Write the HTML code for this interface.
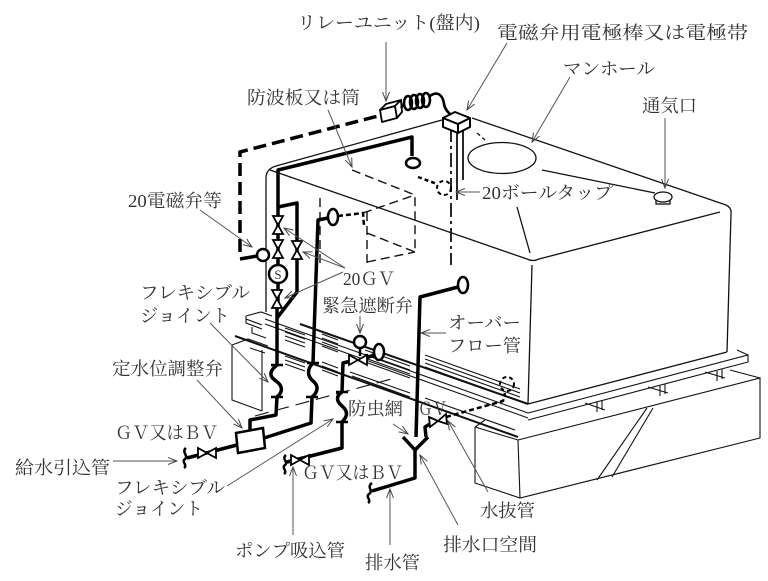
<!DOCTYPE html>
<html><head><meta charset="utf-8"><style>
html,body{margin:0;padding:0;background:#fff;}
svg{display:block;}
text{font-family:"Liberation Serif","Noto Serif CJK SC","Noto Serif CJK JP",serif;font-size:18px;fill:#333;}
</style></head><body>
<svg width="768" height="581" viewBox="0 0 768 581" xmlns="http://www.w3.org/2000/svg">
<defs>
<marker id="a" markerWidth="10" markerHeight="8" refX="9" refY="4" orient="auto" markerUnits="userSpaceOnUse"><path d="M0,0.5 L9,4 L0,7.5" fill="none" stroke="#444" stroke-width="1"/></marker>
</defs>
<rect width="768" height="581" fill="#fff"/>

<!-- TANK thin lines -->
<g fill="none" stroke="#111" stroke-width="1.3" stroke-linejoin="round">
<path d="M266,312 L266,178 Q266,169 276,166 L442,120"/>
<path d="M472,118 L726,205 Q732,208 731,214 L727,352"/>
<path d="M270,170 L527,259 Q533,262 539,259 L720,212"/>
<path d="M532,265 L528,404"/>
<path d="M528,404 L727,352"/>
<path d="M542,170 L655,193"/>
<path d="M517,207 L530,253"/>
<ellipse cx="502" cy="158" rx="34" ry="15.5"/>
<path d="M477,133 L485,140" stroke-dasharray="4 3"/>
</g>
<path d="M300,324 L528,404" stroke="#111" stroke-width="2" fill="none"/>

<!-- vent -->
<rect x="656" y="198" width="14" height="6" fill="#fff" stroke="#111" stroke-width="1.3"/>
<ellipse cx="663" cy="197" rx="9" ry="5" fill="#fff" stroke="#111" stroke-width="1.3"/>

<!-- BEAMS / PLATFORM -->
<g fill="none" stroke="#111" stroke-width="1.1">
<path d="M265,319 L528,413"/>
<path d="M265,324 L528,418"/>
<path d="M285,328 L305,335 M322,334 L338,340 M365,350 L410,366 M425,355 L520,389"/>
<path d="M285,332 L305,339 M322,338 L338,344 M365,354 L410,370 M425,359 L520,393"/>
<path d="M285,336 L305,343 M322,342 L338,348 M365,358 L410,374 M425,363 L520,397"/>
<path d="M285,340 L305,347 M322,346 L338,352 M365,362 L410,378 M425,367 L520,401"/>
<path d="M250,348 L265,353 M285,356 L305,363 M322,362 L338,368 M350,372 L410,393 M425,398 L515,430"/>
<path d="M285,360 L305,367 M322,366 L338,372 M352,376 L410,397"/>
<path d="M285,364 L305,371 M322,370 L338,376"/>
<!-- beam end step -->
<path d="M246,316 L261,312 L272,316 M246,316 L246,323 L262,329 M246,319 L262,325 M252,327 L252,333 L266,338"/>
<!-- left block -->
<path d="M232,345 L232,400 L262,411 M232,345 L248,339 L268,346 M262,350 L262,411"/>
<path d="M255,416 L395,378" stroke-dasharray="14 7"/>
<!-- right slab -->
<path d="M528,413 L748,355 L748,362 L528,420 M748,355 L737,350"/>
<!-- foundation block -->
<path d="M518,440 L760,378 L760,438 L520,498 Z"/>
<path d="M475,427 L518,440 M475,427 L475,483 L520,498 M475,427 L485,420 M730,370 L760,378"/>
<path d="M597,480 L647,408 M612,477 L653,408"/>
<path d="M585,403 L605,410 M597,402 L597,412 M602,400 L602,410"/>
<path d="M648,387 L668,393 M660,386 L660,396 M665,384 L665,394"/>
<path d="M705,372 L725,378 M717,371 L717,381 M722,369 L722,379"/>
</g>
<path d="M235,336 L518,437" stroke="#111" stroke-width="2" fill="none"/>

<!-- dashed 防波板 -->
<g fill="none" stroke="#111" stroke-width="1.4" stroke-dasharray="9 5">
<path d="M352,170 L415,195 L415,252"/>
<path d="M320,198 L320,268"/>
<path d="M367,212 L367,268"/>
<path d="M363,213 L415,195"/>
<path d="M367,233 L415,252"/>
<path d="M367,262 L415,252"/>
</g>

<!-- electrode rods -->
<g fill="none" stroke="#111" stroke-width="1.8">
<path d="M451,128 L451,265" stroke-dasharray="14 4 3 4"/>
<path d="M457,133 L457,200"/>
<path d="M463,130 L463,180"/>
</g>

<!-- control wire -->
<path d="M240,252 L240,152 L378,116" fill="none" stroke="#000" stroke-width="3.5" stroke-dasharray="13 6"/>
<path d="M240,259 L257,256" fill="none" stroke="#000" stroke-width="3.5"/>

<!-- relay box -->
<g stroke="#000" stroke-width="1.8" fill="#fff" stroke-linejoin="round">
<polygon points="380,110 395,106 397,118 382,122"/>
<polygon points="380,110 386,104 401,100 395,106"/>
<polygon points="395,106 401,100 402,112 397,118"/>
</g>
<g fill="none" stroke="#000" stroke-width="2.6">
<path d="M401,108 L404,104"/>
<ellipse cx="408" cy="103" rx="4" ry="7"/>
<ellipse cx="414" cy="102" rx="4" ry="7"/>
<ellipse cx="420" cy="101" rx="4" ry="7"/>
<ellipse cx="426" cy="100" rx="4" ry="7"/>
<path d="M430,96 C438,90 443,96 444,104 C445,110 449,113 452,116"/>
</g>
<g stroke="#000" stroke-width="2" fill="#fff" stroke-linejoin="round">
<polygon points="443,118 458,124 458,133 443,127"/>
<polygon points="458,124 470,118 470,127 458,133"/>
<polygon points="443,118 455,112 470,118 458,124"/>
</g>

<!-- ball tap dashed -->
<path d="M418,177 L437,184" stroke="#000" stroke-width="2.5" stroke-dasharray="4 3" fill="none"/>
<circle cx="444" cy="188" r="7" fill="none" stroke="#000" stroke-width="2" stroke-dasharray="4 3"/>
<path d="M338,216 L363,213 L364,226" stroke="#000" stroke-width="2.5" stroke-dasharray="5 3" fill="none"/>

<!-- PIPES -->
<g fill="none" stroke="#000" stroke-width="3.5" stroke-linejoin="round">
<path d="M278,305 L278,170 L412,137 L412,156"/>
<path d="M278,207 L297,203 L297,292 L277,318"/>
<path d="M277,300 L277,365"/>
<path d="M277,365 C268,372 270,377 276,381 C283,386 283,392 277,397"/>
<path d="M277,397 L276,415 L250,420 L250,432"/>
<path d="M237,445 L187,458"/>
<path d="M186,448 C181,452 189,456 185,459 C181,462 188,465 184,468" stroke-width="2.5"/>
<path d="M264,438 L311,423 L312,397"/>
<path d="M312,397 C318,392 319,386 313,381 C307,376 307,369 313,363"/>
<path d="M313,363 L318,220 L328,218"/>
<path d="M287,462 L342,448 L342,422"/>
<path d="M342,422 C348,416 348,411 342,406 C336,401 336,396 342,392"/>
<path d="M342,392 L343,363 L351,361"/>
<path d="M366,358 L374,355"/>
<path d="M286,455 C281,459 289,462 285,465 C281,468 288,471 284,474" stroke-width="2.5"/>
<path d="M458,287 L420,297 L416,437"/>
<path d="M403,437 L415,450 L428,437"/>
<path d="M415,450 L415,478 L372,491"/>
<path d="M372,483 C366,487 374,491 369,494 C365,497 372,500 368,503" stroke-width="2.5"/>
<path d="M426,437 L425,427 L430,424"/>
</g>
<path d="M446,417 L503,401 L505,393" fill="none" stroke="#000" stroke-width="2.5" stroke-dasharray="5 3"/>
<circle cx="507" cy="384" r="7" fill="none" stroke="#000" stroke-width="2" stroke-dasharray="4 3"/>

<g stroke="#000" stroke-width="2.5">
<path d="M271,365 L283,365 M271,397 L283,397"/>
<path d="M307,363 L319,363 M306,397 L318,397"/>
<path d="M336,392 L348,392 M336,422 L348,422"/>
</g>

<g fill="#fff" stroke="#000" stroke-width="2.5">
<ellipse cx="413" cy="163" rx="7" ry="5"/>
<ellipse cx="333" cy="217" rx="5" ry="8"/>
<ellipse cx="379" cy="352" rx="5" ry="8"/>
<ellipse cx="463" cy="285" rx="5" ry="8"/>
</g>

<g fill="#fff" stroke="#000" stroke-width="1.8" stroke-linejoin="miter">
<path d="M273,216 L283,216 L278,225 Z M273,234 L283,234 L278,225 Z"/>
<path d="M273,240 L283,240 L278,249 Z M273,258 L283,258 L278,249 Z"/>
<path d="M292,241 L302,241 L297,250 Z M292,259 L302,259 L297,250 Z"/>
<path d="M272,290 L282,290 L277,299 Z M272,308 L282,308 L277,299 Z"/>
<path d="M198,448 L198,458 L207,453 Z M216,448 L216,458 L207,453 Z"/>
<path d="M291,455 L291,465 L300,460 Z M309,455 L309,465 L300,460 Z"/>
<path d="M349,355 L349,365 L358,360 Z M367,355 L367,365 L358,360 Z"/>
<path d="M429,417 L430,427 L438,421 Z M446,414 L447,424 L438,421 Z"/>
</g>
<polygon points="236,433 263,428 265,448 238,453" fill="#fff" stroke="#000" stroke-width="2.5"/>
<path d="M360,348 L360,356" stroke="#000" stroke-width="2.5"/>
<circle cx="360" cy="342" r="6" fill="#fff" stroke="#000" stroke-width="2.5"/>
<circle cx="263" cy="255" r="6" fill="#fff" stroke="#000" stroke-width="2.5"/>
<circle cx="278" cy="274" r="9" fill="#fff" stroke="#000" stroke-width="2.5"/>
<text x="278" y="279" text-anchor="middle" style="font-size:13px">S</text>

<!-- LEADERS -->
<g fill="none" stroke="#555" stroke-width="1" marker-end="url(#a)">
<path d="M386,42 L386,101"/>
<path d="M507,43 L467,110"/>
<path d="M570,77 L532,142"/>
<path d="M665,118 L665,188"/>
<path d="M328,110 L352,167"/>
<path d="M200,210 L252,247"/>
<path d="M480,192 L456,192"/>
<path d="M345,268 L284,228"/>
<path d="M345,268 L303,252"/>
<path d="M343,272 L285,298"/>
<path d="M210,323 L268,382"/>
<path d="M197,380 L242,428"/>
<path d="M446,333 L421,333"/>
<path d="M360,316 L360,333"/>
<path d="M113,461 L177,461"/>
<path d="M227,486 L333,419"/>
<path d="M293,535 L293,467"/>
<path d="M393,424 L408,434"/>
<path d="M390,545 L390,489"/>
<path d="M458,525 L420,455"/>
<path d="M488,492 L448,421"/>
</g>

<!-- LABELS -->
<text x="297" y="29" textLength="183" lengthAdjust="spacingAndGlyphs">リレーユニット(盤内)</text>
<text x="497" y="39" textLength="251" lengthAdjust="spacingAndGlyphs">電磁弁用電極棒又は電極帯</text>
<text x="563" y="75" textLength="92" lengthAdjust="spacingAndGlyphs">マンホール</text>
<text x="642" y="112" textLength="55" lengthAdjust="spacingAndGlyphs">通気口</text>
<text x="247" y="104" textLength="113" lengthAdjust="spacingAndGlyphs">防波板又は筒</text>
<text x="128" y="207" textLength="94" lengthAdjust="spacingAndGlyphs">20電磁弁等</text>
<text x="482" y="199" textLength="131" lengthAdjust="spacingAndGlyphs">20ボールタップ</text>
<text x="343" y="285" textLength="52" lengthAdjust="spacingAndGlyphs">20ＧＶ</text>
<text x="322" y="312" textLength="91" lengthAdjust="spacingAndGlyphs">緊急遮断弁</text>
<text x="140" y="299" textLength="110" lengthAdjust="spacingAndGlyphs">フレキシブル</text>
<text x="140" y="322" textLength="90" lengthAdjust="spacingAndGlyphs">ジョイント</text>
<text x="112" y="375" textLength="111" lengthAdjust="spacingAndGlyphs">定水位調整弁</text>
<text x="448" y="329" textLength="73" lengthAdjust="spacingAndGlyphs">オーバー</text>
<text x="448" y="352" textLength="73" lengthAdjust="spacingAndGlyphs">フロー管</text>
<text x="115" y="439" textLength="103" lengthAdjust="spacingAndGlyphs">ＧＶ又はＢＶ</text>
<text x="15" y="474" textLength="95" lengthAdjust="spacingAndGlyphs">給水引込管</text>
<text x="115" y="494" textLength="110" lengthAdjust="spacingAndGlyphs">フレキシブル</text>
<text x="115" y="515" textLength="88" lengthAdjust="spacingAndGlyphs">ジョイント</text>
<text x="235" y="557" textLength="110" lengthAdjust="spacingAndGlyphs">ポンプ吸込管</text>
<text x="348" y="415" textLength="55" lengthAdjust="spacingAndGlyphs">防虫網</text>
<text x="418" y="415" textLength="29" lengthAdjust="spacingAndGlyphs">ＧＶ</text>
<text x="302" y="479" textLength="101" lengthAdjust="spacingAndGlyphs">ＧＶ又はＢＶ</text>
<text x="365" y="569" textLength="55" lengthAdjust="spacingAndGlyphs">排水管</text>
<text x="443" y="551" textLength="94" lengthAdjust="spacingAndGlyphs">排水口空間</text>
<text x="480" y="517" textLength="55" lengthAdjust="spacingAndGlyphs">水抜管</text>
</svg>
</body></html>
